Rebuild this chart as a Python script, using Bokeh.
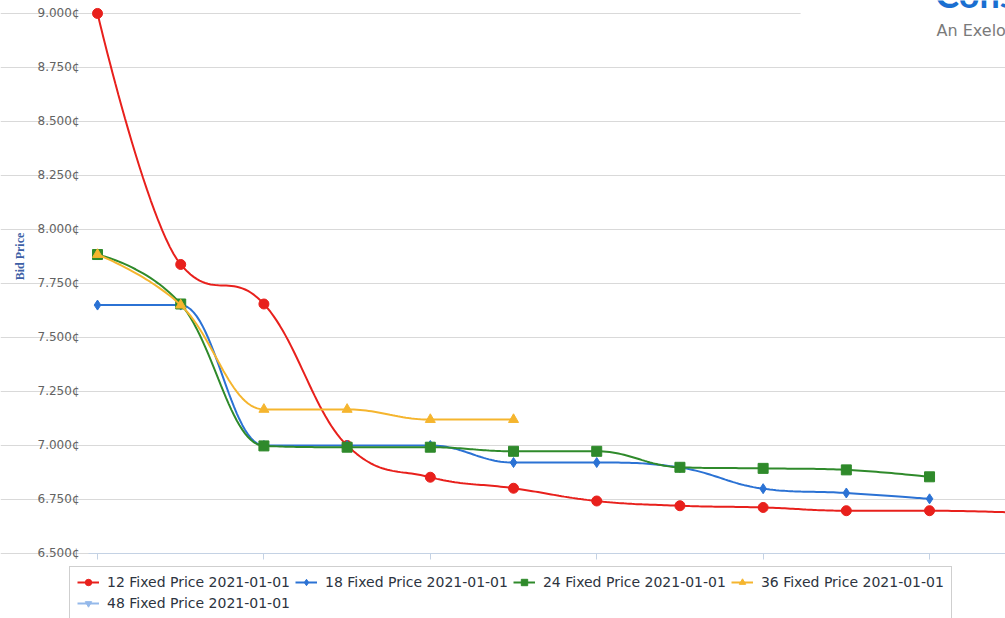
import numpy as np
from bokeh.plotting import figure
from bokeh.models import (Legend, LegendItem, FixedTicker, PrintfTickFormatter,
                          Label, BoxAnnotation, Range1d)
from bokeh.embed import file_html
from bokeh.resources import INLINE

# ---- data ----
positions = list(range(12))  # contract start positions along the x axis
series_names = ["12 Fixed Price 2021-01-01", "18 Fixed Price 2021-01-01",
                "24 Fixed Price 2021-01-01", "36 Fixed Price 2021-01-01",
                "48 Fixed Price 2021-01-01"]
price_12 = [9.000, 7.838, 7.655, 7.000, 6.853, 6.802, 6.743, 6.721, 6.713, 6.698, 6.698, 6.690]
price_18 = [7.650, 7.650, 7.000, 7.000, 7.000, 6.921, 6.921, 6.898, 6.800, 6.780, 6.753]
price_24 = [7.884, 7.655, 6.998, 6.992, 6.992, 6.973, 6.973, 6.899, 6.894, 6.887, 6.855]
price_36 = [7.884, 7.650, 7.167, 7.167, 7.120, 7.120]
price_48 = [np.nan]  # no visible points for this series
y_ticks = [6.5, 6.75, 7.0, 7.25, 7.5, 7.75, 8.0, 8.25, 8.5, 8.75, 9.0]
x_ticks = [0, 2, 4, 6, 8, 10]
y_axis_title = "Bid Price"

colors = ["#e8201c", "#2b72d4", "#2f8a2b", "#f5b52e", "#94b9ea"]
markers = ["circle", "diamond", "square", "triangle", "inverted_triangle"]
sizes = [10, 10, 10, 10, 9]


def spline(xs, ys, steps=30):
    """Highcharts-style spline (smoothing 1.5) sampled to a polyline."""
    n = len(xs)
    if n < 2:
        return list(xs), list(ys)
    sm, d = 1.5, 2.5
    lc = [None] * n
    rc = [None] * n
    for i in range(n):
        px, py = xs[i], ys[i]
        if 0 < i < n - 1:
            lx, ly = xs[i - 1], ys[i - 1]
            nx, ny = xs[i + 1], ys[i + 1]
            lcx = (sm * px + lx) / d
            lcy = (sm * py + ly) / d
            rcx = (sm * px + nx) / d
            rcy = (sm * py + ny) / d
            corr = 0.0
            if rcx != lcx:
                corr = ((rcy - lcy) * (rcx - px)) / (rcx - lcx) + py - rcy
            lcy += corr
            rcy += corr
            if lcy > ly and lcy > py:
                lcy = max(ly, py); rcy = 2 * py - lcy
            elif lcy < ly and lcy < py:
                lcy = min(ly, py); rcy = 2 * py - lcy
            if rcy > ny and rcy > py:
                rcy = max(ny, py); lcy = 2 * py - rcy
            elif rcy < ny and rcy < py:
                rcy = min(ny, py); lcy = 2 * py - rcy
            lc[i] = (lcx, lcy)
            rc[i] = (rcx, rcy)
        else:
            lc[i] = (px, py)
            rc[i] = (px, py)
    outx, outy = [xs[0]], [ys[0]]
    t = np.linspace(0, 1, steps)[1:]
    for i in range(1, n):
        p0 = np.array([xs[i - 1], ys[i - 1]])
        p1 = np.array(rc[i - 1])
        p2 = np.array(lc[i])
        p3 = np.array([xs[i], ys[i]])
        for tt in t:
            pt = ((1 - tt) ** 3) * p0 + 3 * ((1 - tt) ** 2) * tt * p1 + 3 * (1 - tt) * tt * tt * p2 + tt ** 3 * p3
            outx.append(float(pt[0])); outy.append(float(pt[1]))
    return outx, outy


X0, X1 = -1.166, 10.913
Y0, Y1 = 6.199, 9.060
AX_X = -0.108  # where the value axis sits
p = figure(width=1005, height=618, output_backend="svg", toolbar_location=None,
           x_range=Range1d(X0, X1), y_range=Range1d(Y0, Y1),
           min_border_left=0, min_border_right=0, min_border_top=0, min_border_bottom=0)
p.outline_line_color = None
p.background_fill_color = "white"
p.border_fill_color = "white"

# grid
p.xgrid.grid_line_color = None
p.ygrid.grid_line_color = "#d9d9d9"
p.ygrid.grid_line_width = 1
p.ygrid.ticker = FixedTicker(ticks=y_ticks)
p.ygrid.bounds = (AX_X, X1 + 1)

# y axis (drawn inside the frame)
p.yaxis.fixed_location = AX_X
p.yaxis.ticker = FixedTicker(ticks=y_ticks)
p.yaxis.formatter = PrintfTickFormatter(format="%.3f¢")
p.yaxis.axis_line_color = None
p.yaxis.major_tick_line_color = None
p.yaxis.major_tick_out = 0
p.yaxis.major_tick_in = 0
p.yaxis.minor_tick_line_color = None
p.yaxis.minor_tick_out = 0
p.yaxis.major_label_text_font = "DejaVu Sans"
p.yaxis.major_label_text_font_size = "12px"
p.yaxis.major_label_text_color = "#636363"
p.yaxis.major_label_standoff = 9

p.add_layout(Label(x=-0.9375, y=7.875, text=y_axis_title, angle=np.pi / 2,
                   text_align="center", text_baseline="middle",
                   text_font="Liberation Serif", text_font_style="bold",
                   text_font_size="12px", text_color="#3d5fa6"))

# x axis (ticks only, no labels)
p.xaxis.fixed_location = y_ticks[0]
p.xaxis.bounds = (AX_X, X1 + 1)
p.xaxis.ticker = FixedTicker(ticks=x_ticks)
p.xaxis.major_label_overrides = {t: "" for t in x_ticks}
p.xaxis.major_label_text_font_size = "4px"
p.xaxis.axis_line_color = "#c4d2e4"
p.xaxis.major_tick_line_color = "#c4d2e4"
p.xaxis.major_tick_out = 6
p.xaxis.major_tick_in = 0
p.xaxis.minor_tick_line_color = None
p.xaxis.major_label_standoff = 0

# logo area
p.add_layout(BoxAnnotation(left=8.45, bottom=8.95, fill_color="white", fill_alpha=1.0,
                           line_color=None))
p.add_layout(Label(x=10.07, y=8.99, text="Constellation", text_color="#1a6fd1",
                   text_font="Lato", text_font_style="bold", text_font_size="36px"))
p.add_layout(Label(x=10.084, y=8.877, text="An Exelon Company", text_color="#7a7a7a",
                   text_font="DejaVu Sans", text_font_size="16px"))

all_series = [price_12, price_18, price_24, price_36, price_48]
items = []
for name, vals, col, mk, sz in zip(series_names, all_series, colors, markers, sizes):
    xs = positions[:len(vals)]
    sx, sy = spline(xs, vals)
    ln = p.line(sx, sy, line_color=col, line_width=2)
    sc = p.scatter(xs, vals, marker=mk, size=sz, fill_color=col, line_color=col)
    items.append(LegendItem(label=name, renderers=[ln, sc]))

legend = Legend(items=items, location=(69, -1), orientation="horizontal", ncols=4)
legend.label_text_font = "DejaVu Sans"
legend.label_text_font_size = "14px"
legend.label_text_color = "#2d3440"
legend.glyph_width = 22
legend.glyph_height = 16
legend.label_height = 16
legend.label_standoff = 8
legend.spacing = 5
legend.padding = 7
legend.margin = 0
legend.border_line_color = "#a0a0a0"
legend.border_line_width = 1
legend.background_fill_alpha = 1.0
p.add_layout(legend)

open("out.html", "w").write(file_html(p, INLINE))
